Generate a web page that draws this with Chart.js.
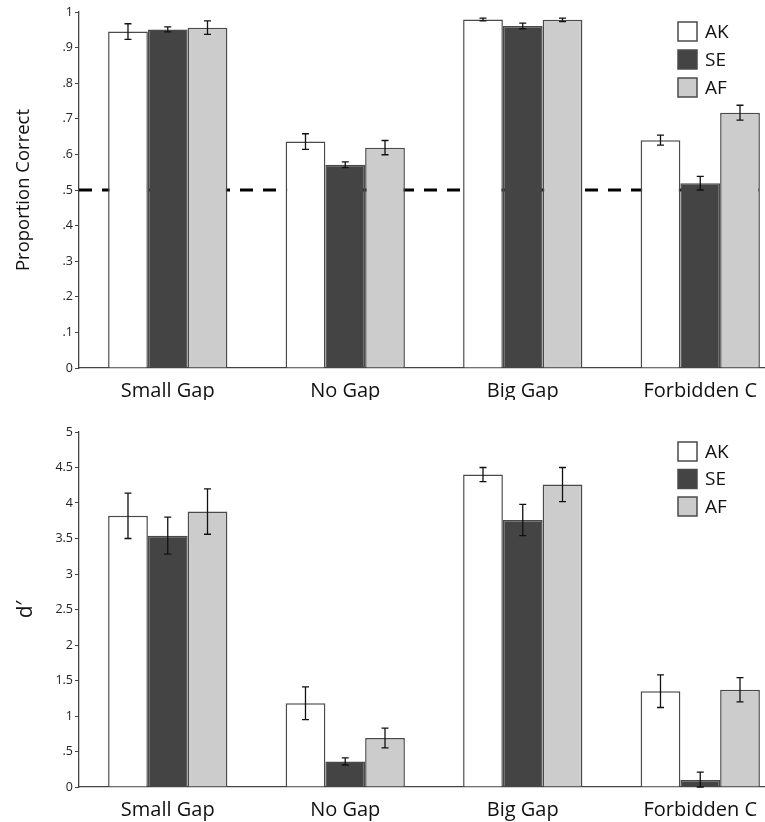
<!DOCTYPE html>
<html>
<head>
<meta charset="utf-8">
<script src="https://cdn.jsdelivr.net/npm/chart.js@4/dist/chart.umd.min.js"></script>
<style>
  html, body { margin: 0; padding: 0; background: #fff; overflow: hidden; width: 765px; height: 822px; }
  .wrap { position: absolute; left: 0; }
</style>
</head>
<body>
<div class="wrap" style="top:0px"><canvas id="top" width="789" height="400"></canvas></div>
<div class="wrap" style="top:400px"><canvas id="bottom" width="789" height="422"></canvas></div>
<script>
// ---------- data ----------
const categories = ['Small Gap', 'No Gap', 'Big Gap', 'Forbidden C'];
const seriesNames = ['AK', 'SE', 'AF'];

const propAK = [0.945, 0.636, 0.979, 0.640];
const propSE = [0.951, 0.571, 0.961, 0.519];
const propAF = [0.956, 0.619, 0.978, 0.717];
const propErrAK = [0.022, 0.022, 0.004, 0.014];
const propErrSE = [0.007, 0.008, 0.008, 0.019];
const propErrAF = [0.019, 0.020, 0.005, 0.021];
const propChance = 0.5;

const dAK = [3.82, 1.18, 4.40, 1.35];
const dSE = [3.54, 0.36, 3.76, 0.10];
const dAF = [3.88, 0.69, 4.26, 1.37];
const dErrAK = [0.32, 0.23, 0.10, 0.23];
const dErrSE = [0.26, 0.05, 0.22, 0.11];
const dErrAF = [0.32, 0.14, 0.24, 0.17];

const propTickValues = [0, 0.1, 0.2, 0.3, 0.4, 0.5, 0.6, 0.7, 0.8, 0.9, 1];
const propTickLabels = ['0', '.1', '.2', '.3', '.4', '.5', '.6', '.7', '.8', '.9', '1'];
const dTickValues = [0, 0.5, 1, 1.5, 2, 2.5, 3, 3.5, 4, 4.5, 5];
const dTickLabels = ['0', '.5', '1', '1.5', '2', '2.5', '3', '3.5', '4', '4.5', '5'];

// ---------- styles ----------
const FONT = "'Open Sans', 'DejaVu Sans', sans-serif";
const fills = ['#ffffff', '#444444', '#cccccc'];
const borderCol = '#4a4a4a';

// ---------- plugins ----------
const errorBarPlugin = {
  id: 'errorBars',
  afterDatasetsDraw(chart) {
    const ctx = chart.ctx;
    const y = chart.scales.y;
    ctx.save();
    ctx.strokeStyle = '#111';
    ctx.lineWidth = 1.3;
    chart.data.datasets.forEach((ds, i) => {
      const meta = chart.getDatasetMeta(i);
      meta.data.forEach((el, j) => {
        const v = ds.data[j], e = ds.errors[j];
        const y1 = y.getPixelForValue(v + e), y2 = y.getPixelForValue(Math.max(v - e, 0));
        const x = el.x, cap = 3.5;
        ctx.beginPath();
        ctx.moveTo(x, y1); ctx.lineTo(x, y2);
        ctx.moveTo(x - cap, y1); ctx.lineTo(x + cap, y1);
        ctx.moveTo(x - cap, y2); ctx.lineTo(x + cap, y2);
        ctx.stroke();
      });
    });
    ctx.restore();
  }
};

const refLinePlugin = {
  id: 'refLine',
  beforeDatasetsDraw(chart, args, opts) {
    if (opts.value === undefined) return;
    const ctx = chart.ctx, a = chart.chartArea;
    const yy = chart.scales.y.getPixelForValue(opts.value);
    ctx.save();
    ctx.strokeStyle = '#000';
    ctx.lineWidth = 3;
    ctx.setLineDash([13, 10]);
    ctx.beginPath();
    ctx.moveTo(a.left, yy); ctx.lineTo(a.right, yy);
    ctx.stroke();
    ctx.restore();
  }
};

const boxLegendPlugin = {
  id: 'boxLegend',
  afterDraw(chart, args, opts) {
    const ctx = chart.ctx, a = chart.chartArea;
    const x0 = a.left + 599, y0 = a.top + 10, box = 19, gap = opts.spacing || 28;
    ctx.save();
    ctx.font = '19px ' + FONT;
    ctx.textBaseline = 'middle';
    ctx.textAlign = 'left';
    chart.data.datasets.forEach((ds, i) => {
      const yy = y0 + i * gap;
      ctx.fillStyle = ds.backgroundColor;
      ctx.fillRect(x0, yy, box, box);
      ctx.strokeStyle = borderCol;
      ctx.lineWidth = 1.5;
      ctx.strokeRect(x0, yy, box, box);
      ctx.fillStyle = '#111';
      ctx.fillText(ds.label, x0 + box + 8, yy + box / 2 + 1);
    });
    ctx.restore();
  }
};

function makeDatasets(vals, errs) {
  return vals.map((v, i) => ({
    label: seriesNames[i],
    data: v,
    errors: errs[i],
    backgroundColor: fills[i],
    borderColor: borderCol,
    borderWidth: 1.5,
    categoryPercentage: 0.672,
    barPercentage: 1.0
  }));
}

function makeChart(id, datasets, tickVals, tickLabels, yMax, title, titleSize, areaTop, xHeight, legendSpacing, refValue) {
  return new Chart(document.getElementById(id), {
    type: 'bar',
    data: { labels: categories, datasets: datasets },
    options: {
      responsive: false,
      animation: false,
      layout: { padding: { top: areaTop, left: 0, right: 0, bottom: 0 } },
      plugins: {
        legend: { display: false },
        tooltip: { enabled: false },
        refLine: { value: refValue },
        boxLegend: { spacing: legendSpacing }
      },
      scales: {
        x: {
          grid: { display: false, drawTicks: false },
          border: { display: true, color: '#444', width: 1.3 },
          ticks: { color: '#111', font: { family: FONT, size: 20 }, padding: 11, maxRotation: 0 },
          afterFit(s) { s.height = xHeight; }
        },
        y: {
          min: 0, max: yMax,
          afterBuildTicks(s) { s.ticks = tickVals.map(v => ({ value: v })); },
          grid: { drawOnChartArea: false, drawTicks: true, tickLength: 4, color: '#444' },
          border: { display: true, color: '#444', width: 1.3 },
          ticks: {
            color: '#222', font: { family: FONT, size: 12.5 }, padding: 2,
            callback: (v, i) => tickLabels[i]
          },
          title: { display: true, text: title, color: '#111', font: { family: FONT, size: titleSize }, padding: { top: 13, bottom: 0 } },
          afterFit(s) { s.width = 79; }
        }
      }
    },
    plugins: [refLinePlugin, errorBarPlugin, boxLegendPlugin]
  });
}

makeChart('top',
  makeDatasets([propAK, propSE, propAF], [propErrAK, propErrSE, propErrAF]),
  propTickValues, propTickLabels, 1, 'Proportion Correct', 18.5, 12, 32, 28, propChance);

makeChart('bottom',
  makeDatasets([dAK, dSE, dAF], [dErrAK, dErrSE, dErrAF]),
  dTickValues, dTickLabels, 5, 'd\u2032', 21, 32, 35, 27.5, undefined);
</script>
</body>
</html>
